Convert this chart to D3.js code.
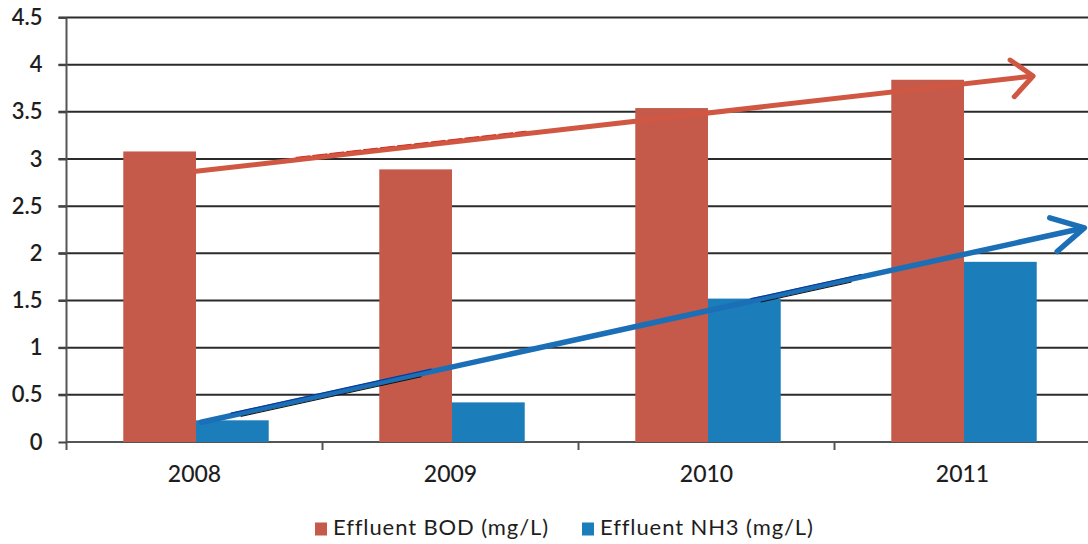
<!DOCTYPE html>
<html>
<head>
<meta charset="utf-8">
<script src="https://cdn.jsdelivr.net/npm/d3@7"></script>
<style>
  html, body { margin: 0; padding: 0; background: #fff; }
  svg { display: block; }
  text { font-family: Lato, "Open Sans", sans-serif; fill: #1e1e1e; }
</style>
</head>
<body>
<svg id="chart" width="1088" height="544"></svg>
<script>
// Yearly effluent averages
const years = ["2008", "2009", "2010", "2011"];
const bodValues = [3.08, 2.89, 3.54, 3.84];
const nh3Values = [0.23, 0.42, 1.52, 1.91];
const seriesNames = ["Effluent BOD (mg/L)", "Effluent NH3 (mg/L)"];
const yTicks = [0, 0.5, 1, 1.5, 2, 2.5, 3, 3.5, 4, 4.5];

// Hand-drawn trend arrows: position in category units (0 = first year) and value
const bodTrend = [{ i: 0.0, v: 2.87 }, { i: 3.27, v: 3.88 }];
const nh3Trend = [{ i: 0.02, v: 0.21 }, { i: 3.47, v: 2.27 }];

const colors = { bod: "#c55a4a", nh3: "#1c7dbb", bodArrow: "#d05843", nh3Arrow: "#1b6fb6" };

const svg = d3.select("#chart");
const plotLeft = 66.5, plotRight = 1090.5, plotTop = 17.5, plotBottom = 442;

const x = d3.scaleBand().domain(years).range([plotLeft, plotRight]).paddingInner(0).paddingOuter(0);
const inner = d3.scaleBand().domain(["bod", "nh3"]).range([0, x.bandwidth()]).paddingInner(0).paddingOuter(0.76);
const y = d3.scaleLinear().domain([0, 4.5]).range([plotBottom, plotTop]);
// continuous position across categories for the trend arrows
const xc = d3.scaleLinear().domain([0, 1]).range([x(years[0]) + x.bandwidth() / 2 + 1.5, x(years[1]) + x.bandwidth() / 2 + 1.5]);

// gridlines
svg.append("g")
  .selectAll("line")
  .data(yTicks.filter(d => d > 0))
  .join("line")
  .attr("x1", plotLeft - 8).attr("x2", 1088)
  .attr("y1", d => y(d)).attr("y2", d => y(d))
  .attr("stroke", "#2b2b2b").attr("stroke-width", 2);

// y axis
const yAxis = svg.append("g")
  .attr("transform", `translate(${plotLeft},0)`)
  .call(d3.axisLeft(y).tickValues(yTicks).tickFormat(d3.format("")).tickSize(8).tickPadding(16));
yAxis.select(".domain").attr("stroke", "#555").attr("stroke-width", 2).attr("d", `M0,${plotTop}V${plotBottom + 8}`);
yAxis.selectAll(".tick line").attr("stroke", "#444").attr("stroke-width", 2);
yAxis.selectAll(".tick text").style("font-size", "22px").style("font-weight", "600").attr("fill", "#1e1e1e");

// x axis
const xAxis = svg.append("g")
  .attr("transform", `translate(0,${plotBottom})`)
  .call(d3.axisBottom(x).tickSize(0).tickPadding(24));
xAxis.select(".domain").attr("stroke", "#555").attr("stroke-width", 2).attr("d", `M${plotLeft},0H1088`);
xAxis.selectAll(".tick text").style("font-size", "23px").style("font-weight", "500").attr("fill", "#1e1e1e");
svg.append("g").selectAll("line")
  .data(years.slice(1))
  .join("line")
  .attr("x1", d => x(d)).attr("x2", d => x(d))
  .attr("y1", plotBottom).attr("y2", plotBottom + 8)
  .attr("stroke", "#555").attr("stroke-width", 2);

// bars
const groups = svg.append("g").selectAll("g")
  .data(years.map((yr, k) => ({ yr, bod: bodValues[k], nh3: nh3Values[k] })))
  .join("g")
  .attr("transform", d => `translate(${x(d.yr) + 1.5},0)`);
groups.selectAll("rect")
  .data(d => [{ key: "bod", v: d.bod }, { key: "nh3", v: d.nh3 }])
  .join("rect")
  .attr("x", d => inner(d.key))
  .attr("width", inner.bandwidth())
  .attr("y", d => y(d.v))
  .attr("height", d => y(0) - y(d.v))
  .attr("fill", d => colors[d.key]);

// trend arrows
function arrow(pts, color, width, headLen, headAngle) {
  const x0 = xc(pts[0].i), y0 = y(pts[0].v), x1 = xc(pts[1].i), y1 = y(pts[1].v);
  const ang = Math.atan2(y1 - y0, x1 - x0);
  const g = svg.append("g").attr("fill", "none").attr("stroke-linecap", "round").attr("stroke-linejoin", "round");
  g.append("line").attr("x1", x0).attr("y1", y0).attr("x2", x1 - Math.cos(ang) * 3).attr("y2", y1 - Math.sin(ang) * 3)
    .attr("stroke", color).attr("stroke-width", width);
  const a1 = ang + Math.PI - headAngle, a2 = ang + Math.PI + headAngle;
  g.append("path")
    .attr("d", `M${x1 + Math.cos(a1) * headLen},${y1 + Math.sin(a1) * headLen}L${x1},${y1}L${x1 + Math.cos(a2) * headLen},${y1 + Math.sin(a2) * headLen}`)
    .attr("stroke", color).attr("stroke-width", width);
  return { g, x0, y0, x1, y1, ang };
}
const ra = arrow(bodTrend, colors.bodArrow, 5, 28, 0.72);
const ba = arrow(nh3Trend, colors.nh3Arrow, 5.5, 36, 0.5);
// thin pen edges along the strokes
const slopeB = Math.tan(ba.ang), slopeR = Math.tan(ra.ang);
[[30, 230, -2.5], [550, 660, -2.5]].forEach(([a, b, off]) => {
  ba.g.append("line")
    .attr("x1", ba.x0 + a).attr("y1", ba.y0 + a * slopeB + off)
    .attr("x2", ba.x0 + b).attr("y2", ba.y0 + b * slopeB + off)
    .attr("stroke", "#0b3c9c").attr("stroke-width", 1.2);
  ba.g.append("line")
    .attr("x1", ba.x0 + a + 10).attr("y1", ba.y0 + (a + 10) * slopeB - off + 0.5)
    .attr("x2", ba.x0 + b - 10).attr("y2", ba.y0 + (b - 10) * slopeB - off + 0.5)
    .attr("stroke", "#111").attr("stroke-width", 1);
});
ra.g.append("line")
  .attr("x1", ra.x0 + 100).attr("y1", ra.y0 + 100 * slopeR - 2.5)
  .attr("x2", ra.x0 + 330).attr("y2", ra.y0 + 330 * slopeR - 2.5)
  .attr("stroke", "#d82a1c").attr("stroke-width", 1).attr("stroke-dasharray", "14 3");

// legend
const legend = svg.append("g").attr("transform", "translate(0,529)");
const items = [{ name: seriesNames[0], color: colors.bod, x: 315 }, { name: seriesNames[1], color: colors.nh3, x: 582 }];
items.forEach(it => {
  legend.append("rect").attr("x", it.x).attr("y", -6.5).attr("width", 12).attr("height", 13).attr("fill", it.color);
  legend.append("text").attr("x", it.x + 18).attr("y", 6)
    .style("font-size", "22px").style("letter-spacing", "0.9px").text(it.name);
});
</script>
</body>
</html>
